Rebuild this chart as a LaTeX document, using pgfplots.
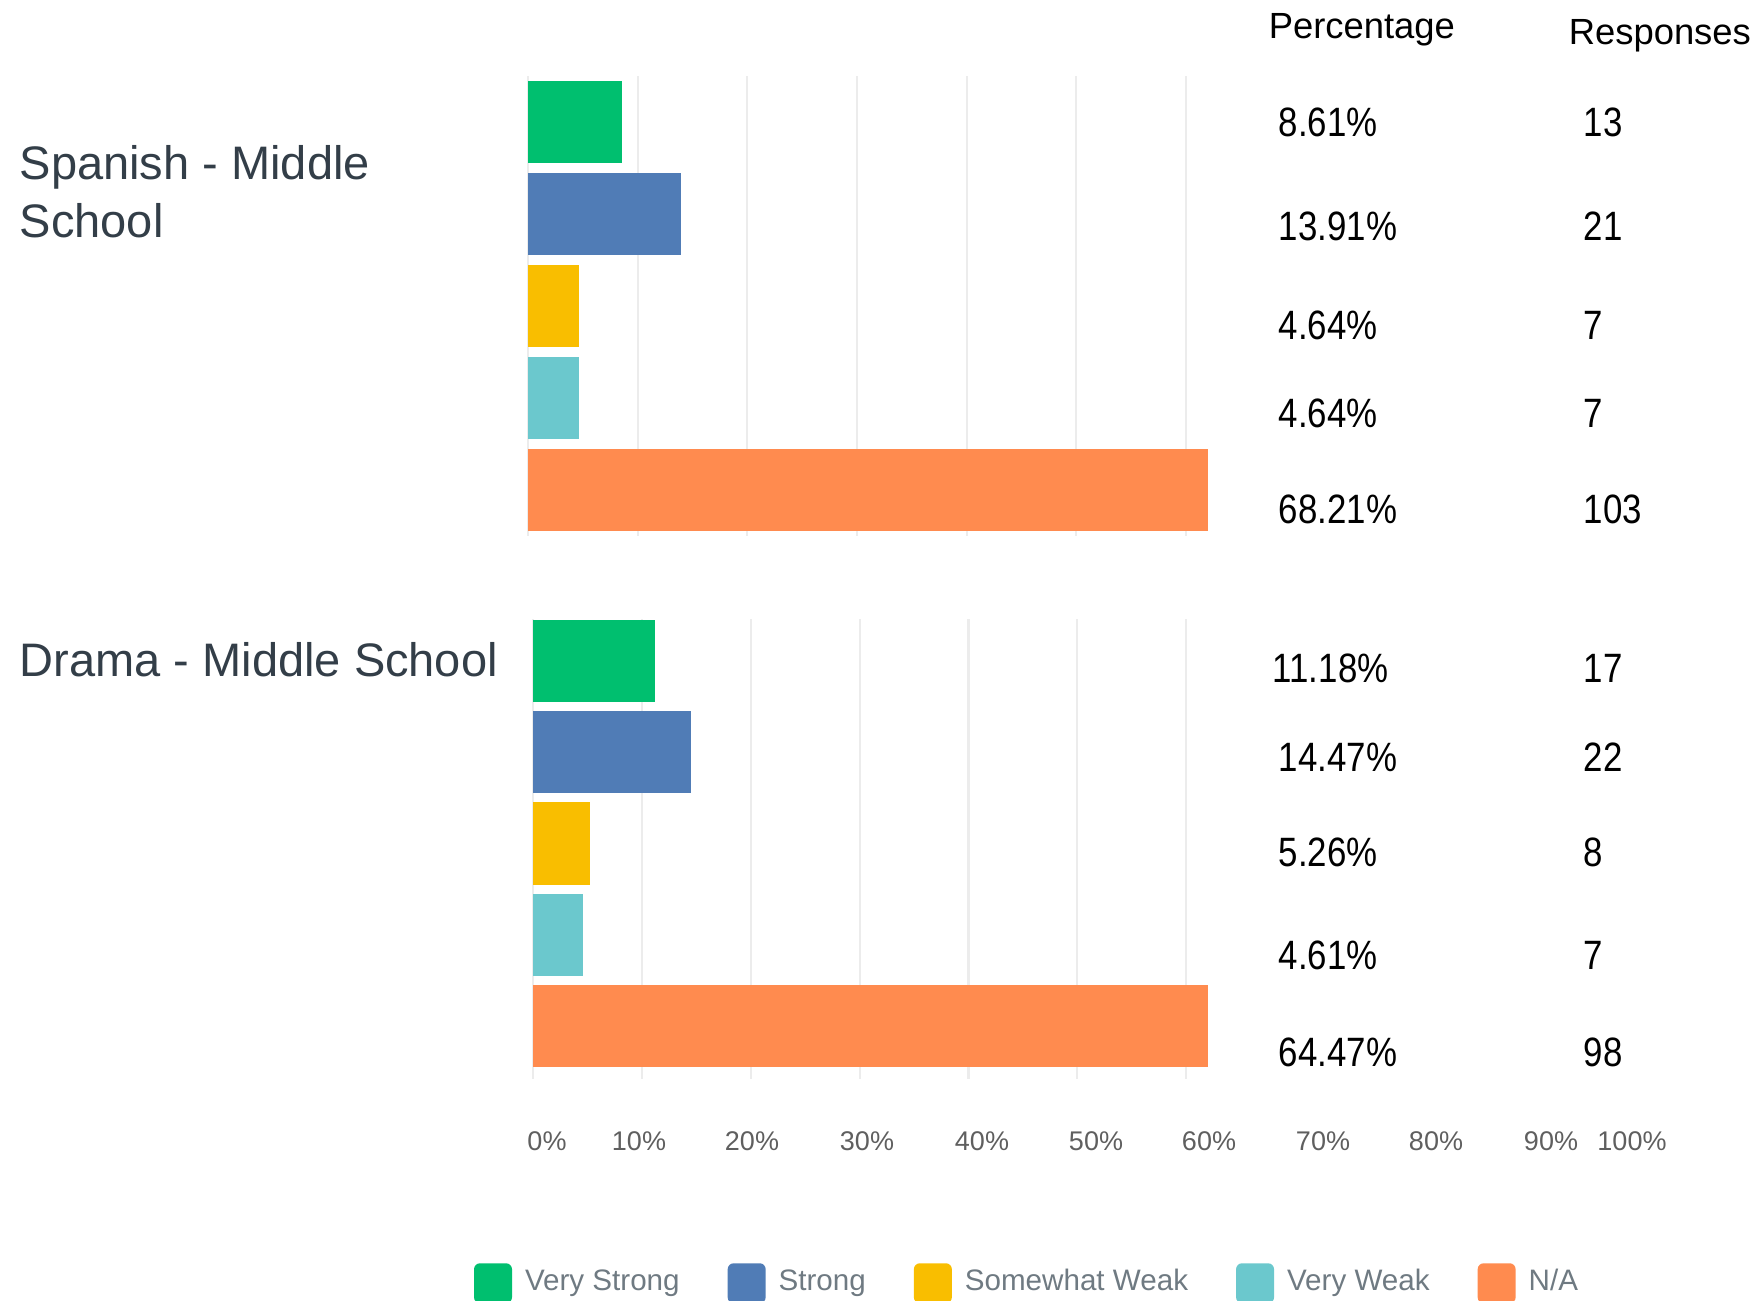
\documentclass[border=0pt]{standalone}
\usepackage{fontspec}
\setmainfont{Liberation Sans}
\newfontfamily\numfont[FakeStretch=0.85]{Liberation Sans}
\usepackage{pgfplots}
\pgfplotsset{compat=1.18}
\definecolor{cVS}{HTML}{00BF6F}
\definecolor{cS}{HTML}{507CB6}
\definecolor{cSW}{HTML}{F9BE00}
\definecolor{cVW}{HTML}{6BC8CD}
\definecolor{cNA}{HTML}{FF8B4F}
\definecolor{labelc}{HTML}{333E48}
\definecolor{gridc}{HTML}{ECECEC}
\definecolor{tickc}{HTML}{5F5F5F}
\definecolor{legc}{HTML}{6F7A82}
\pgfplotsset{panel/.style={xbar, scale only axis, axis line style={draw=none},
  xmin=0, xmax=62, xtick={0,10,...,60}, ytick=\empty, xticklabels={},
  xmajorgrids, grid style={gridc, line width=0.55pt}, major tick length=0pt,
  bar shift=0pt, clip=true}}
\begin{document}
\begin{tikzpicture}
\useasboundingbox (0,0) rectangle (439.5pt,325pt);
% ---------- Spanish - Middle School ----------
\begin{axis}[panel, at={(132pt,306pt)}, anchor=north west, width=170pt, height=115pt,
  ymin=-0.5, ymax=4.5, bar width=0.89]
\addplot[fill=cVS, draw=none] coordinates {(8.61,4)};
\addplot[fill=cS,  draw=none] coordinates {(13.91,3)};
\addplot[fill=cSW, draw=none] coordinates {(4.64,2)};
\addplot[fill=cVW, draw=none] coordinates {(4.64,1)};
\addplot[fill=cNA, draw=none] coordinates {(68.21,0)};
\end{axis}
% ---------- Drama - Middle School ----------
\begin{axis}[panel, at={(133.25pt,170.25pt)}, anchor=north west, width=168.75pt, height=115pt,
  ymin=-0.58, ymax=4.46, bar width=0.9,
  legend columns=5,
  legend style={at={(-0.0874,-0.444)}, anchor=west, draw=none, fill=none,
    inner sep=0pt, outer sep=0pt,
    font=\fontsize{7.4}{9}\selectfont, text=legc,
    nodes={inner sep=0pt},
    /tikz/every odd column/.append style={column sep=3.25pt},
    /tikz/every even column/.append style={column sep=12pt}},
  legend image code/.code={\fill[rounded corners=1.5pt] (0pt,-5pt) rectangle (9.5pt,5pt);}]
\addplot[fill=cVS, draw=none] coordinates {(11.18,4)};
\addplot[fill=cS,  draw=none] coordinates {(14.47,3)};
\addplot[fill=cSW, draw=none] coordinates {(5.26,2)};
\addplot[fill=cVW, draw=none] coordinates {(4.61,1)};
\addplot[fill=cNA, draw=none] coordinates {(64.47,0)};
\legend{Very Strong, Strong, Somewhat Weak, Very Weak, N/A}
\end{axis}
% ---------- percentage tick labels ----------
\begin{axis}[at={(0pt,39.75pt)}, anchor=south west, scale only axis, width=439.5pt, height=1pt,
  xmin=0, xmax=1758, ymin=0, ymax=1, axis line style={draw=none}, ytick=\empty,
  major tick length=0pt,
  xtick={547,639,752,867,982,1096,1209,1323,1436,1551,1632},
  xticklabels={0\%,10\%,20\%,30\%,40\%,50\%,60\%,70\%,80\%,90\%,100\%},
  xticklabel style={anchor=center, font=\fontsize{6.75}{8}\selectfont, text=tickc}]
\end{axis}
% ---------- row labels ----------
\begin{scope}[every node/.style={inner sep=0pt, anchor=base west, text=labelc, font=\fontsize{11.75}{14}\selectfont}]
\node at (4.75pt,280pt) {Spanish - Middle};
\node at (4.75pt,265.75pt) {School};
\node at (4.75pt,156pt) {Drama - Middle School};
\end{scope}
% ---------- headers ----------
\begin{scope}[every node/.style={inner sep=0pt, anchor=base west, text=black, font=\fontsize{9.1}{11}\selectfont}]
\node at (317pt,315.5pt) {Percentage};
\node at (392pt,313.75pt) {Responses};
\end{scope}
% ---------- values ----------
\begin{scope}[every node/.style={inner sep=0pt, anchor=base west, text=black, font=\numfont\fontsize{10.25}{12}\selectfont}]
\node at (319.5pt,290.75pt) {8.61\%};   \node at (395.75pt,290.75pt) {13};
\node at (319.5pt,265pt)    {13.91\%};  \node at (395.75pt,265pt)    {21};
\node at (319.5pt,240.25pt) {4.64\%};   \node at (395.75pt,240.25pt) {7};
\node at (319.5pt,218.25pt) {4.64\%};   \node at (395.75pt,218.25pt) {7};
\node at (319.5pt,194.25pt) {68.21\%};  \node at (395.75pt,194.25pt) {103};
\node at (318pt,154.5pt)    {11.18\%};  \node at (395.75pt,154.5pt)  {17};
\node at (319.5pt,132.25pt) {14.47\%};  \node at (395.75pt,132.25pt) {22};
\node at (319.5pt,108.5pt)  {5.26\%};   \node at (395.75pt,108.5pt)  {8};
\node at (319.5pt,82.75pt)  {4.61\%};   \node at (395.75pt,82.75pt)  {7};
\node at (319.5pt,58.5pt)   {64.47\%};  \node at (395.75pt,58.5pt)   {98};
\end{scope}
\end{tikzpicture}
\end{document}
